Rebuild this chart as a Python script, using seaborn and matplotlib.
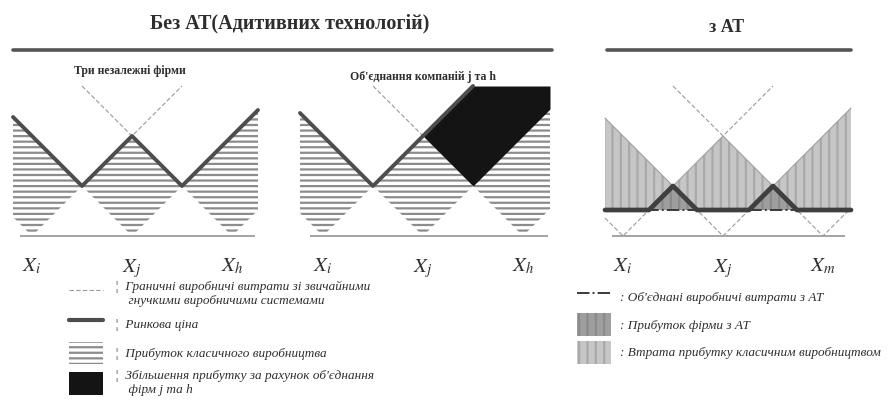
import matplotlib
matplotlib.use('Agg')
import matplotlib.pyplot as plt
from matplotlib.lines import Line2D
from matplotlib.patches import Patch
import seaborn as sns

# ---------- data (cost units: 1 = distance between neighbour firms) ----------
firms = [0, 1, 2]
labels_1 = [r'$X_i$', r'$X_j$', r'$X_h$']
labels_2 = [r'$X_i$', r'$X_j$', r'$X_h$']
labels_3 = [r'$X_i$', r'$X_j$', r'$X_m$']

# panel 1: three independent firms
p1_x = [-0.19, 0, 0.5, 1, 1.5, 2, 2.26]
p1_cost = [0.19, 0, 0.5, 0, 0.5, 0, 0.26]
p1_price = [1.19, 1.0, 0.5, 1.0, 0.5, 1.0, 1.26]
p1_base = [-0.12, 2.23]

# panel 2: firms j and h merged
p2_x = [-0.23, 0, 0.5, 1, 1.5, 2, 2.27]
p2_cost = [0.23, 0, 0.5, 0, 0.5, 0, 0.27]
p2_price_old = [1.23, 1.0, 0.5, 1.0, 0.5, 1.0, 1.27]
merge_x = [1, 1.5, 2, 2.27]
merge_low = [1.0, 0.5, 1.0, 1.27]
merge_high = [1.0, 1.5, 1.5, 1.5]
p2_price_new_x = [-0.23, 0.5, 1, 1.5]
p2_price_new = [1.23, 0.5, 1.0, 1.5]
p2_base = [-0.13, 2.25]

# extended cost lines above the middle firm
cross_x = [0.5, 1, 1.5]
cross_y = [1.5, 1.0, 1.5]

# panel 3: with additive technologies
p3_x = [-0.18, 0, 0.26, 0.5, 0.74, 1, 1.26, 1.5, 1.74, 2, 2.28]
p3_cost = [0.18, 0, 0.26, 0.5, 0.26, 0, 0.26, 0.5, 0.26, 0, 0.28]
p3_price_old = [1.18, 1.0, 0.74, 0.5, 0.74, 1.0, 0.74, 0.5, 0.74, 1.0, 1.28]
p3_price_new = [0.26, 0.26, 0.26, 0.5, 0.26, 0.26, 0.26, 0.5, 0.26, 0.26, 0.26]
at_cost = 0.26
p3_base = [-0.11, 2.22]

# ---------- style ----------
sns.set_theme(style='white')
plt.rcParams['font.family'] = ['Liberation Serif', 'DejaVu Serif']
plt.rcParams['mathtext.fontset'] = 'stix'
plt.rcParams['hatch.linewidth'] = 1.6

HATCH_C = '#8c8c8c'
PRICE_C = '#4d4d4d'
THIN_C = '#9a9a9a'
LIGHT = '#c6c6c6'
DARK = '#9e9e9e'
TXT = '#2e2e2e'

W, H = 896, 401
fig = plt.figure(figsize=(W / 100, H / 100), dpi=100)


def make_panel(x0, labels, base):
    ax = fig.add_axes([(x0 - 30) / W, (H - 250) / H, 270 / W, 200 / H])
    ax.set_xlim(-0.3, 2.4)
    ax.set_ylim(-0.14, 1.86)
    ax.set_xticks(firms)
    ax.set_xticklabels(labels, fontsize=15, color=TXT)
    ax.tick_params(axis='x', length=0, pad=5)
    ax.set_yticks([])
    ax.patch.set_alpha(0)
    sns.despine(ax=ax, left=True, bottom=True)
    ax.hlines(0, base[0], base[1], color='#8a8a8a', lw=1.1, zorder=1)
    return ax


# panel 1
ax1 = make_panel(32, labels_1, p1_base)
ax1.fill_between(p1_x, p1_cost, p1_price, facecolor='white', edgecolor=HATCH_C,
                 hatch='---', lw=0, zorder=2)
sns.lineplot(x=cross_x, y=cross_y, ax=ax1, color=THIN_C, lw=0.8, ls=(0, (4, 2)), zorder=3)
sns.lineplot(x=p1_x, y=p1_price, ax=ax1, color=PRICE_C, lw=2.8, zorder=4)

# panel 2
ax2 = make_panel(323, labels_2, p2_base)
ax2.fill_between(p2_x, p2_cost, p2_price_old, facecolor='white', edgecolor=HATCH_C,
                 hatch='---', lw=0, zorder=2)
ax2.fill_between(merge_x, merge_low, merge_high, color='#141414', lw=0, zorder=3)
sns.lineplot(x=cross_x[:2], y=cross_y[:2], ax=ax2, color=THIN_C, lw=0.8, ls=(0, (4, 2)), zorder=3)
sns.lineplot(x=p2_price_new_x, y=p2_price_new, ax=ax2, color=PRICE_C, lw=2.8, zorder=4)

# panel 3
ax3 = make_panel(623, labels_3, p3_base)
sns.lineplot(x=p3_x, y=p3_cost, ax=ax3, color=THIN_C, lw=0.8, ls=(0, (4, 2)), zorder=2)
ax3.fill_between(p3_x, p3_price_new, p3_price_old, facecolor=LIGHT, edgecolor='#a9a9a9',
                 hatch='||', lw=0, zorder=2)
ax3.fill_between(p3_x, at_cost, p3_price_new, facecolor=DARK, edgecolor='#8a8a8a',
                 hatch='||', lw=0, zorder=2)
sns.lineplot(x=p3_x, y=p3_price_old, ax=ax3, color='#a0a0a0', lw=0.8, zorder=3)
sns.lineplot(x=cross_x, y=cross_y, ax=ax3, color=THIN_C, lw=0.8, ls=(0, (4, 2)), zorder=3)
ax3.hlines(at_cost, p3_x[0], p3_x[-1], color='#3a3a3a', lw=1.4, ls='-.', zorder=4)
sns.lineplot(x=p3_x, y=p3_price_new, ax=ax3, color='#3f3f3f', lw=3.4, zorder=5)

# headings
fig.text(290 / W, 1 - 23 / H, 'Без АТ(Адитивних технологій)', ha='center', va='center',
         fontsize=14.5, fontweight='bold', color=TXT)
fig.add_artist(Line2D([13 / W, 552 / W], [1 - 50 / H] * 2, color='#555555', lw=2.6))
fig.text(727 / W, 1 - 28 / H, 'з АТ', ha='center', va='center',
         fontsize=13, fontweight='bold', color=TXT)
fig.add_artist(Line2D([607 / W, 851 / W], [1 - 50 / H] * 2, color='#555555', lw=2.6))
fig.text(130 / W, 1 - 71 / H, 'Три незалежні фірми', ha='center', va='center',
         fontsize=8.5, fontweight='bold', color=TXT)
fig.text(423 / W, 1 - 77 / H, "Об'єднання компаній j та h", ha='center', va='center',
         fontsize=8.5, fontweight='bold', color=TXT)

# legends
lp = dict(family='Liberation Serif', style='italic', size=9.5)
h_left = [Line2D([], [], color=THIN_C, lw=0.8, ls=(0, (4, 2))),
          Line2D([], [], color=PRICE_C, lw=3),
          Patch(facecolor='white', edgecolor=HATCH_C, hatch='---', lw=0),
          Patch(facecolor='#141414', lw=0)]
l_left = ['¦  Граничні виробничі витрати зі звичайними\n    гнучкими виробничими системами',
          '¦  Ринкова ціна',
          '¦  Прибуток класичного виробництва',
          '¦  Збільшення прибутку за рахунок об\'єднання\n    фірм j та h']
fig.legend(h_left, l_left, loc='upper left', bbox_to_anchor=(62 / W, 1 - 274 / H),
           frameon=False, prop=lp, handlelength=2.6, handleheight=2.3,
           handletextpad=0.9, labelspacing=0.45, borderpad=0, labelcolor=TXT)

h_right = [Line2D([], [], color='#3a3a3a', lw=1.4, ls='-.'),
           Patch(facecolor=DARK, edgecolor='#8a8a8a', hatch='||', lw=0),
           Patch(facecolor=LIGHT, edgecolor='#a9a9a9', hatch='||', lw=0)]
l_right = [": Об'єднані виробничі витрати з АТ",
           ': Прибуток фірми з АТ',
           ': Втрата прибутку класичним виробництвом']
fig.legend(h_right, l_right, loc='upper left', bbox_to_anchor=(570 / W, 1 - 279 / H),
           frameon=False, prop=lp, handlelength=2.6, handleheight=2.3,
           handletextpad=0.7, labelspacing=0.35, borderpad=0, labelcolor=TXT)

fig.savefig('out.png', dpi=100)
